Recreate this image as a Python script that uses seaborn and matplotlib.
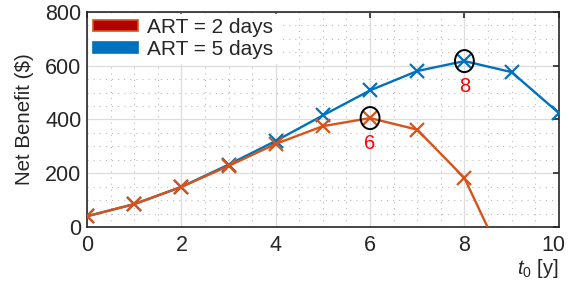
import numpy as np
import pandas as pd
import matplotlib
matplotlib.use("Agg")
import matplotlib.pyplot as plt
import matplotlib.transforms as mtransforms
from matplotlib.patches import Patch, Ellipse
from matplotlib.ticker import MultipleLocator
import seaborn as sns

# ---- data ----
t0 = [0, 1, 2, 3, 4, 5, 6, 7, 8, 9, 10]
art2 = [40, 85, 149, 227, 309, 375, 405, 362, 182, -190, -560]
art5 = [40, 85, 149, 232, 320, 415, 508, 580, 617, 576, 424]
series_names = ["ART = 2 days", "ART = 5 days"]
x_ticks = [0, 2, 4, 6, 8, 10]
y_ticks = [0, 200, 400, 600, 800]

BLUE = "#0072BD"
ORANGE = "#D95319"
TXT = "#262626"

sns.set_style("white")
plt.rcParams["font.family"] = ["Liberation Sans", "DejaVu Sans"]
plt.rcParams["mathtext.fontset"] = "custom"
plt.rcParams["mathtext.it"] = "Liberation Sans:italic"
plt.rcParams["mathtext.rm"] = "Liberation Sans"

fig = plt.figure(figsize=(5.69, 2.83), dpi=100)
ax = fig.add_axes([0.153, 0.198, 0.829, 0.760])

sns.lineplot(x=t0, y=art5, ax=ax, color=BLUE, marker="x", markersize=10,
             markeredgewidth=1.6, linewidth=1.7, markeredgecolor=BLUE, zorder=3)
sns.lineplot(x=t0, y=art2, ax=ax, color=ORANGE, marker="x", markersize=10,
             markeredgewidth=1.6, linewidth=1.7, markeredgecolor=ORANGE, zorder=4)

ax.set_xlim(0, 10)
ax.set_ylim(0, 800)
ax.set_xticks(x_ticks)
ax.set_yticks(y_ticks)
ax.xaxis.set_minor_locator(MultipleLocator(0.5))
ax.yaxis.set_minor_locator(MultipleLocator(50))
ax.grid(True, which="major", color="#DDDDDD", linewidth=0.9, zorder=0)
ax.grid(True, which="minor", color="#BBBBBB", linestyle=(0, (1, 4.5)), linewidth=0.8, zorder=0)
ax.set_axisbelow(True)
ax.tick_params(which="major", direction="in", length=4, width=1.2, top=True, right=True,
               labelsize=15.5, colors=TXT)
ax.tick_params(axis="x", which="major", pad=6)
ax.tick_params(axis="y", which="major", pad=4)
ax.tick_params(which="minor", length=0)
for s in ax.spines.values():
    s.set_color(TXT)
    s.set_linewidth(1.2)

# keep the last x tick label inside the figure
fig.canvas.draw()
last = ax.get_xticklabels()[-1]
last.set_transform(last.get_transform() + mtransforms.ScaledTranslation(-4 / 72, 0, fig.dpi_scale_trans))

ax.set_ylabel("Net Benefit ($)", fontsize=14.8, color=TXT, labelpad=8)
ax.set_xlabel(r"$t_{\mathit{0}}$ [y]", fontsize=14.5, color=TXT, ha="right", va="top")
ax.xaxis.set_label_coords(1.0, -0.14)

# highlight maxima
for ys in (art2, art5):
    i = int(np.argmax(ys))
    ax.add_patch(Ellipse((t0[i], ys[i]), width=0.40, height=82, fill=False,
                         edgecolor="black", linewidth=1.4, zorder=5))
    ax.annotate(str(t0[i]), (t0[i], ys[i]), xytext=(0, -18), textcoords="offset points",
                ha="center", va="center", color="red", fontsize=14.5, zorder=6)

handles = [Patch(facecolor="#B00000", edgecolor=ORANGE, linewidth=1.2),
           Patch(facecolor=BLUE, edgecolor=BLUE, linewidth=1.2)]
leg = ax.legend(handles, series_names, loc="upper left", fontsize=15,
                frameon=True, handlelength=2.15, handleheight=0.42,
                borderaxespad=0.1, borderpad=0.2, labelspacing=0.12, handletextpad=0.45)
leg.get_frame().set_edgecolor("white")
leg.get_frame().set_facecolor("white")
leg.get_frame().set_alpha(1.0)
leg.get_frame().set_boxstyle("square", pad=0.0)

fig.savefig("out.png", dpi=100)
